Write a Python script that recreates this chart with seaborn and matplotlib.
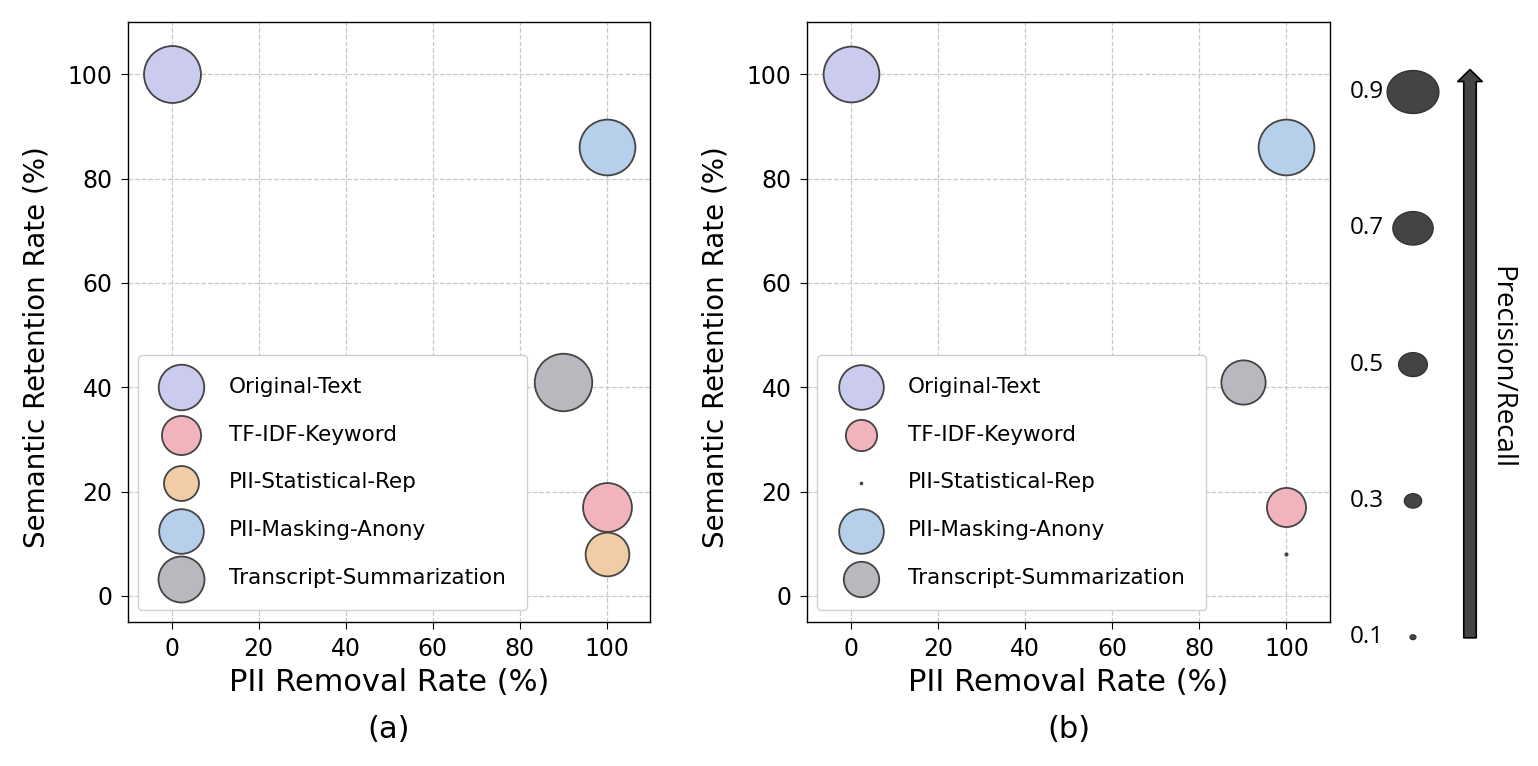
import numpy as np
import pandas as pd
import matplotlib
matplotlib.use('Agg')
import matplotlib.pyplot as plt
from matplotlib.path import Path
import seaborn as sns

# data
methods = ['Original-Text', 'TF-IDF-Keyword', 'PII-Statistical-Rep',
           'PII-Masking-Anony', 'Transcript-Summarization']
pii_removal = [0, 100, 100, 100, 90]
semantic_retention = [100, 17, 8, 86, 41]
score_a = [0.99, 0.85, 0.76, 0.97, 1.0]   # marker size, panel (a)
score_b = [0.97, 0.68, 0.04, 0.97, 0.77]  # marker size, panel (b)
legend_levels = [0.9, 0.7, 0.5, 0.3, 0.1]

colours = {'Original-Text': '#cbcbef', 'TF-IDF-Keyword': '#f2b4bc',
           'PII-Statistical-Rep': '#f0cda6', 'PII-Masking-Anony': '#b6cfea',
           'Transcript-Summarization': '#b8b9be'}

SIZE_K = 41.4  # points of diameter for a score of 1


def area(v):
    return (SIZE_K * np.asarray(v)) ** 2


sns.set_style('ticks')
plt.rcParams['font.family'] = ['DejaVu Sans']
plt.rcParams.update({'text.color': 'black', 'axes.labelcolor': 'black',
                     'xtick.color': 'black', 'ytick.color': 'black'})

W, H = 1538, 766
fig = plt.figure(figsize=(W / 100, H / 100), dpi=100)


def panel(rect, scores, tag):
    ax = fig.add_axes(rect)
    df = pd.DataFrame({'Method': methods, 'x': pii_removal, 'y': semantic_retention,
                       's': area(scores)})
    for _, row in df.iterrows():
        sns.scatterplot(x=[row['x']], y=[row['y']], s=row['s'], color=colours[row['Method']],
                        edgecolor='#444444', linewidth=1.3, label=row['Method'], ax=ax,
                        zorder=3)
    ax.set_xlim(-10, 110)
    ax.set_ylim(-5, 110)
    ax.set_xticks(range(0, 101, 20))
    ax.set_yticks(range(0, 101, 20))
    ax.grid(True, linestyle='--', color='#c8c8c8', linewidth=0.9)
    ax.set_axisbelow(True)
    for sp in ax.spines.values():
        sp.set_color('black')
        sp.set_linewidth(1.0)
    ax.tick_params(labelsize=17, length=5, pad=6, color='black')
    ax.set_xlabel('PII Removal Rate (%)', fontsize=22, labelpad=5)
    ax.set_ylabel('Semantic Retention Rate (%)', fontsize=20, labelpad=6)
    ax.yaxis.set_label_coords(-0.148, 0.458)
    ax.legend(loc='lower left', markerscale=0.8, fontsize=15.5, labelspacing=1.3,
              borderpad=1.0, handletextpad=1.2, borderaxespad=0, frameon=True,
              framealpha=1, edgecolor='#d0d0d0', fancybox=True,
              bbox_to_anchor=(0.02, 0.02))
    ax.text(0.5, -0.18, tag, transform=ax.transAxes, ha='center', va='center', fontsize=22)
    return ax


ax1 = panel([128 / W, 144 / H, 522 / W, 600 / H], score_a, '(a)')
ax2 = panel([807 / W, 144 / H, 523 / W, 600 / H], score_b, '(b)')

# size key on the right
ax3 = fig.add_axes([1330 / W, 0, 208 / W, 1])
ax3.set_xlim(0, 208)
ax3.set_ylim(-0.089, 1.035)
ax3.axis('off')
t = np.linspace(0, 2 * np.pi, 80)
ellipse = Path(np.column_stack([np.cos(t), 0.83 * np.sin(t)]), closed=True)
key = pd.DataFrame({'level': legend_levels, 'x': [83] * len(legend_levels)})
sns.scatterplot(data=key, x='x', y='level', s=area(key['level']), marker=ellipse,
                color='#444444', edgecolor='#333333', linewidth=1.0, legend=False, ax=ax3)
for lv in legend_levels:
    ax3.text(37, lv, f'{lv:.1f}', ha='center', va='center', fontsize=17.5,
             family=['Open Sans', 'DejaVu Sans'])
ax3.annotate('', xy=(140, 0.937), xytext=(140, 0.095),
             arrowprops=dict(arrowstyle='simple,head_length=0.48,head_width=0.98,tail_width=0.5',
                             facecolor='#444444', edgecolor='black', linewidth=1.2,
                             mutation_scale=18))
ax3.text(171, 0.496, 'Precision/Recall', rotation=-90, ha='center', va='center', fontsize=20,
         family=['Open Sans', 'DejaVu Sans'])

fig.savefig('out.png', dpi=100)
